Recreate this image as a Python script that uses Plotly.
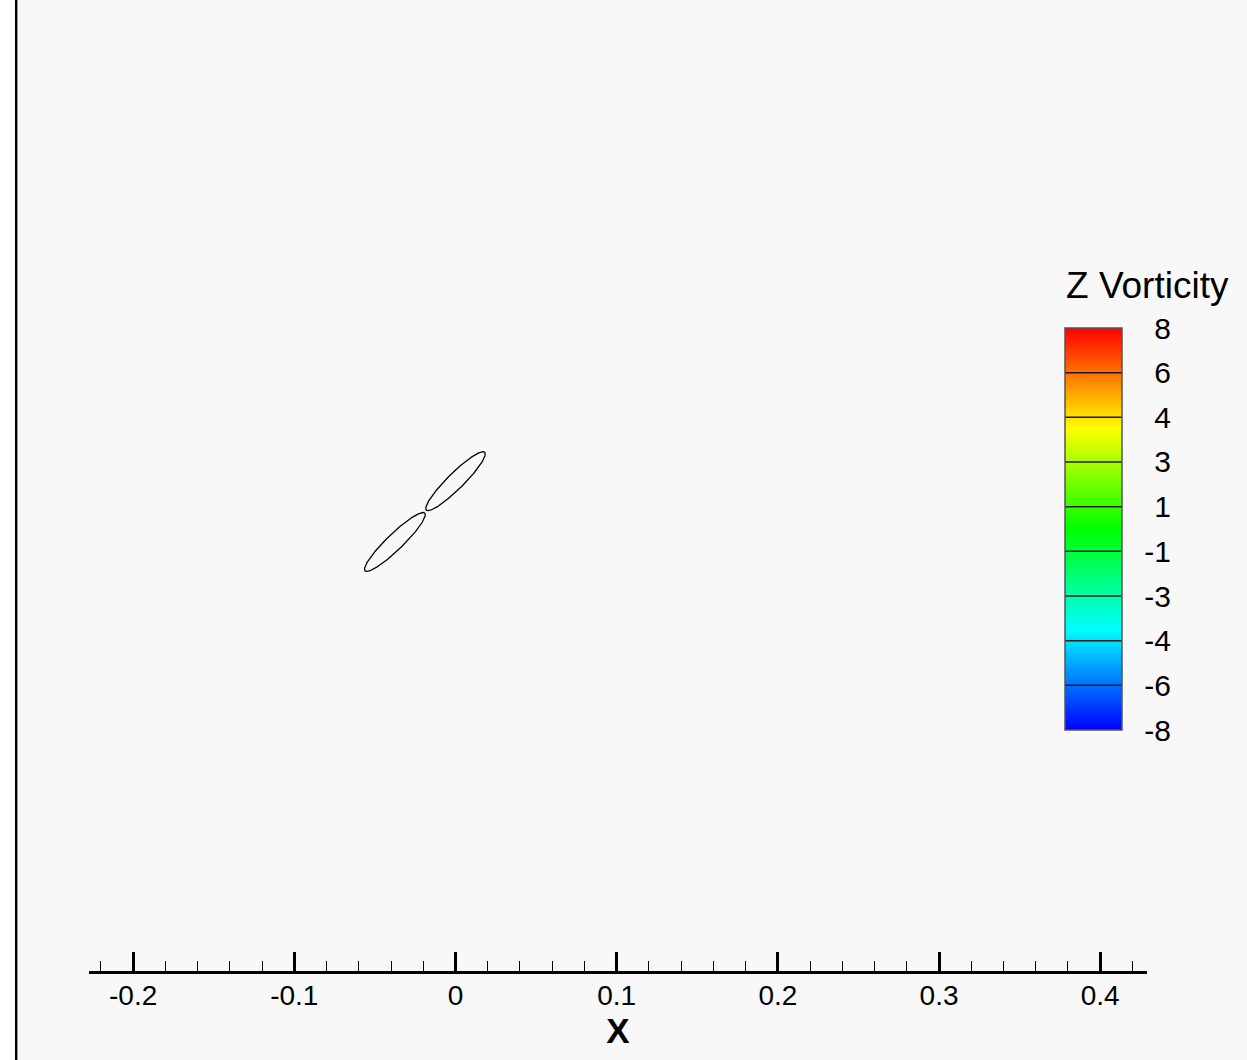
import numpy as np
import plotly.graph_objects as go

W, H = 1247, 1060

# ---- data ----
x_tick_vals = [-0.2, -0.1, 0.0, 0.1, 0.2, 0.3, 0.4]
x_tick_text = ["-0.2", "-0.1", "0", "0.1", "0.2", "0.3", "0.4"]

# ellipse bodies (center x, center y, semi-major, semi-minor, angle deg)
ell_cx = [0.0, -0.0376]
ell_cy = [0.0, -0.0377]
ell_a = [0.0255, 0.0258]
ell_b = [0.0050, 0.0050]
ell_ang = [44.7, 44.0]

# contour levels of Z vorticity
levels = [-8.0, -6.222, -4.444, -2.667, -0.889, 0.889, 2.667, 4.444, 6.222, 8.0]
level_labels = ["-8", "-6", "-4", "-3", "-1", "1", "3", "4", "6", "8"]

colorscale = [[0.0, "rgb(0,0,255)"], [0.25, "rgb(0,255,255)"], [0.5, "rgb(0,255,0)"],
              [0.75, "rgb(255,255,0)"], [1.0, "rgb(255,0,0)"]]

fig = go.Figure()

# ellipse outlines
t = np.linspace(0, 2 * np.pi, 300)
for cx, cy, a, b, ang in zip(ell_cx, ell_cy, ell_a, ell_b, ell_ang):
    th = np.deg2rad(ang)
    xs = cx + a * np.cos(t) * np.cos(th) - b * np.sin(t) * np.sin(th)
    ys = cy + a * np.cos(t) * np.sin(th) + b * np.sin(t) * np.cos(th)
    fig.add_trace(go.Scatter(x=xs, y=ys, mode="lines", line=dict(color="black", width=1.3),
                             hoverinfo="skip", showlegend=False, xaxis="x", yaxis="y"))

# colorbar as heatmap in its own axes
zc = np.linspace(levels[0], levels[-1], 401)
fig.add_trace(go.Heatmap(z=zc.reshape(-1, 1), x=[0], y=zc, colorscale=colorscale,
                         zmin=levels[0], zmax=levels[-1], showscale=False,
                         hoverinfo="skip", xaxis="x2", yaxis="y2"))

mb = 89
ph = H - mb  # plot area height in px
def py(p):  # pixel y -> paper
    return (ph - p) / ph

pxu = 1611.8  # px per data unit
y0px = 481.2

shapes = []
# band lines
for lv in levels[1:-1]:
    shapes.append(dict(type="line", xref="x2 domain", yref="y2", x0=0, x1=1, y0=lv, y1=lv,
                       line=dict(color="#1a1a1a", width=1.5), layer="above"))
shapes.append(dict(type="rect", xref="x2 domain", yref="y2 domain", x0=0, x1=1, y0=0, y1=1,
                   line=dict(color="#555555", width=1.5), layer="above"))
# left white strip and frame line
shapes.append(dict(type="rect", xref="paper", yref="paper", x0=-0.01, x1=15.5 / W, y0=-0.2, y1=1.1,
                   fillcolor="white", line=dict(width=0), layer="above"))
shapes.append(dict(type="line", xref="paper", yref="paper", x0=16.2 / W, x1=16.2 / W, y0=-0.2, y1=1.1,
                   line=dict(color="black", width=2.4), layer="above"))

fig.update_layout(
    width=W, height=H, autosize=False,
    margin=dict(l=0, r=0, t=0, b=mb, pad=0, autoexpand=False),
    paper_bgcolor="#f8f8f8", plot_bgcolor="#f8f8f8",
    font=dict(family="Liberation Sans, Arial, sans-serif", color="black"),
    showlegend=False,
    xaxis=dict(
        domain=[89 / W, 1147 / W], range=[(89 - 455.5) / pxu, (1147 - 455.5) / pxu],
        anchor="y", showline=True, linewidth=3, linecolor="black", mirror=False,
        automargin=False,
        ticks="inside", ticklen=19, tickwidth=3, tickcolor="black",
        tickmode="array", tickvals=x_tick_vals, ticktext=x_tick_text,
        tickfont=dict(size=28, family="Liberation Sans, Arial, sans-serif"),
        ticklabelstandoff=-3,
        minor=dict(ticks="inside", ticklen=10, tickwidth=1, tickcolor="black", dtick=0.02, tick0=0,
                   showgrid=False),
        showgrid=False, zeroline=False, fixedrange=True,
        title=dict(text="<b>X</b>", font=dict(size=35, family="Liberation Sans, Arial, sans-serif"),
                   standoff=2),
    ),
    yaxis=dict(
        domain=[0, 1], range=[-(ph - y0px) / pxu, y0px / pxu], anchor="x",
        visible=False, showgrid=False, zeroline=False, fixedrange=True, automargin=False,
    ),
    xaxis2=dict(domain=[1065 / W, 1122 / W], range=[-0.5, 0.5], anchor="y2", visible=False,
                fixedrange=True, automargin=False),
    yaxis2=dict(domain=[py(730), py(328)], range=[levels[0], levels[-1]], anchor="free",
                position=1171 / W, side="left", showline=False, showgrid=False, zeroline=False,
                automargin=False,
                ticks="", tickmode="array", tickvals=levels, ticktext=level_labels,
                tickfont=dict(size=30, family="Liberation Sans, Arial, sans-serif"),
                fixedrange=True),
    shapes=shapes,
    annotations=[dict(text="Z Vorticity", xref="paper", yref="paper", x=1064 / W, y=py(285),
                      xanchor="left", yanchor="middle", showarrow=False,
                      font=dict(size=37, family="Liberation Sans, Arial, sans-serif"))],
)

fig.write_html("out.html")
